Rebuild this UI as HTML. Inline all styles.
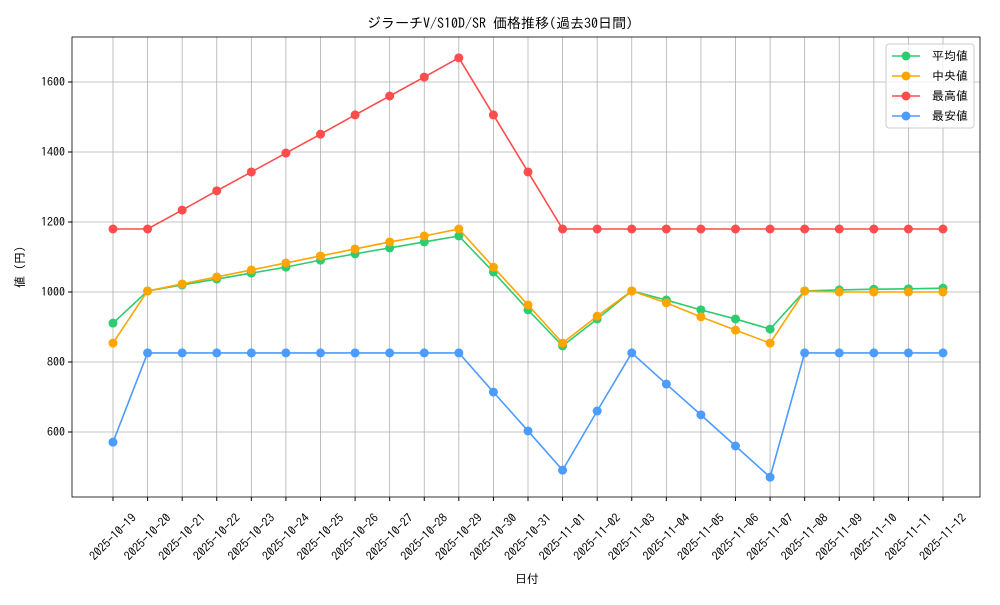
<!DOCTYPE html>
<html><head><meta charset="utf-8"><style>
body{margin:0;background:#fff}
svg text{font-family:"IPAGothic","Noto Sans CJK JP",sans-serif;font-size:12px;fill:#000}
</style></head><body>
<svg width="1000" height="600" xmlns="http://www.w3.org/2000/svg">
<rect width="1000" height="600" fill="#fff"/>
<g id="grid" stroke="#b0b0b0" stroke-width="0.8"></g>
<rect x="72" y="37" width="908" height="460" fill="none" stroke="#000" stroke-width="0.8"/>
<g id="ticks"></g>
<g id="series"></g>
<text x="500" y="28" text-anchor="middle" style="font-size:14px">ジラーチV/S10D/SR 価格推移(過去30日間)</text>
<text x="527" y="583" text-anchor="middle">日付</text>
<text transform="translate(24,267) rotate(-90)" text-anchor="middle">値 (円)</text>
<g>
<rect x="886" y="44" width="88" height="84" rx="3" fill="#fff" fill-opacity="0.8" stroke="#ccc"/>
<line x1="892" y1="56" x2="920" y2="56" stroke="#2ecc71" stroke-width="1.5"/><circle cx="906" cy="56" r="4.5" fill="#2ecc71"/><text x="932" y="60">平均値</text>
<line x1="892" y1="76" x2="920" y2="76" stroke="#ffa500" stroke-width="1.5"/><circle cx="906" cy="76" r="4.5" fill="#ffa500"/><text x="932" y="80">中央値</text>
<line x1="892" y1="96" x2="920" y2="96" stroke="#ff4c4c" stroke-width="1.5"/><circle cx="906" cy="96" r="4.5" fill="#ff4c4c"/><text x="932" y="100">最高値</text>
<line x1="892" y1="116" x2="920" y2="116" stroke="#4c9cff" stroke-width="1.5"/><circle cx="906" cy="116" r="4.5" fill="#4c9cff"/><text x="932" y="120">最安値</text>
</g>
</svg>
<script>
const X0=113,DX=830/24;const Y=v=>292-(v-1000)*0.35;
const ns="http://www.w3.org/2000/svg";
function el(p,t,a,txt){const e=document.createElementNS(ns,t);for(const k in a)e.setAttribute(k,a[k]);if(txt)e.textContent=txt;p.appendChild(e);return e;}
const g=document.getElementById('grid'),tk=document.getElementById('ticks'),s=document.getElementById('series');
const dates=[];for(let i=19;i<=31;i++)dates.push('2025-10-'+i);for(let i=1;i<=12;i++)dates.push('2025-11-'+String(i).padStart(2,'0'));
dates.forEach((d,i)=>{const x=X0+i*DX;el(g,'line',{x1:x,x2:x,y1:37,y2:497});el(tk,'line',{x1:x,x2:x,y1:497,y2:501,stroke:'#000'});
el(tk,'text',{transform:`translate(${x},${537}) rotate(-45)`,'text-anchor':'middle','dominant-baseline':'central'},d);});
[600,800,1000,1200,1400,1600].forEach(v=>{const y=Y(v);el(g,'line',{x1:72,x2:980,y1:y,y2:y});el(tk,'line',{x1:68,x2:72,y1:y,y2:y,stroke:'#000'});el(tk,'text',{x:65,y:y+4,'text-anchor':'end'},v);});
const data=[
['#2ecc71',[911,1003,1020,1037,1054,1071,1091,1109,1126,1143,1160,1057,949,846,923,1003,977,949,923,894,1003,1006,1008,1009,1011]],
['#ffa500',[854,1003,1023,1043,1063,1083,1103,1123,1143,1160,1180,1071,963,854,931,1003,969,929,891,854,1003,1000,1000,1000,1000]],
['#ff4c4c',[1180,1180,1234,1289,1343,1397,1451,1506,1560,1614,1669,1506,1343,1180,1180,1180,1180,1180,1180,1180,1180,1180,1180,1180,1180]],
['#4c9cff',[571,826,826,826,826,826,826,826,826,826,826,714,603,491,660,826,737,649,560,471,826,826,826,826,826]]];
data.forEach(([c,v])=>{el(s,'polyline',{points:v.map((a,i)=>(X0+i*DX)+','+Y(a)).join(' '),fill:'none',stroke:c,'stroke-width':1.6});
v.forEach((a,i)=>el(s,'circle',{cx:X0+i*DX,cy:Y(a),r:4.5,fill:c}));});
</script>
</body></html>
